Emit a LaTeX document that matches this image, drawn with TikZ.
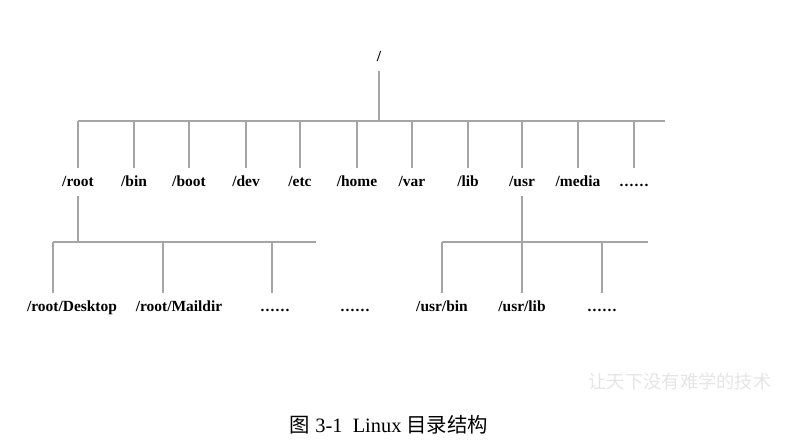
\documentclass[tikz,border=0pt]{standalone}
\usepackage{fontspec}
\setmainfont{Liberation Serif}
\newfontfamily\cjk{Noto Sans CJK SC}
\definecolor{linegray}{RGB}{165,165,165}
\newcommand\dirdots{.\kern.8pt.\kern.8pt.\kern.8pt.\kern.8pt.\kern.8pt.}
\begin{document}
\begin{tikzpicture}[
x=0.025cm, y=-0.025cm,
dir/.style={
        font=\fontsize{11}{13}\selectfont\bfseries,
        text height=9.5pt,
        text depth=2.5pt,
        inner xsep=1pt,
        inner ysep=3.8pt,
    },
tree/.style={
        draw=linegray,
        line width=0.8pt,
    },
]
\useasboundingbox (0,0) rectangle (804,443);

% top level
\node [dir] (root) at (379,57) {/};
\coordinate (bus1l) at (78,121);
\coordinate (bus1r) at (665,121);
\node [dir] (rootdir) at (78,182) {/root};
\node [dir] (bin) at (134,182) {/bin};
\node [dir] (boot) at (189,182) {/boot};
\node [dir] (dev) at (246,182) {/dev};
\node [dir] (etc) at (300,182) {/etc};
\node [dir] (home) at (357,182) {/home};
\node [dir] (var) at (412,182) {/var};
\node [dir] (lib) at (468,182) {/lib};
\node [dir] (usr) at (522,182) {/usr};
\node [dir] (media) at (578,182) {/media};
\node [dir] (more) at (634,182) {\dirdots};

\draw[tree] (root) -- (root |- bus1l);
\draw[tree] (bus1l) -- (bus1r);
\foreach \d in {rootdir,bin,boot,dev,etc,home,var,lib,usr,media,more}
    \draw[tree] (\d.north) -- (\d.north |- bus1l);

% under /root
\coordinate (bus2l) at (53,242);
\coordinate (bus2r) at (316,242);
\coordinate (drop2b) at (163,242);
\coordinate (drop2c) at (272,242);
\node [dir] (desktop) at (72,307) {/root/Desktop};
\node [dir] (maildir) at (179,307) {/root/Maildir};
\node [dir] (rootmore) at (275,307) {\dirdots};
\node [dir] (rootmoreb) at (355,307) {\dirdots};
\draw[tree] (rootdir.south) -- (rootdir.south |- bus2l);
\draw[tree] (bus2l) -- (bus2r);
\draw[tree] (bus2l) -- (bus2l |- desktop.north);
\draw[tree] (drop2b) -- (drop2b |- maildir.north);
\draw[tree] (drop2c) -- (drop2c |- rootmore.north);

% under /usr
\coordinate (bus3l) at (442,242);
\coordinate (bus3r) at (648,242);
\node [dir] (usrbin) at (442,307) {/usr/bin};
\node [dir] (usrlib) at (522,307) {/usr/lib};
\node [dir] (usrmore) at (602,307) {\dirdots};
\draw[tree] (usr.south) -- (usr.south |- bus3l);
\draw[tree] (bus3l) -- (bus3r);
\foreach \d in {usrbin,usrlib,usrmore}
    \draw[tree] (\d.north) -- (\d.north |- bus3l);

% watermark and caption
\node[text=gray!20, font=\cjk\fontsize{13}{15}\selectfont] (mark) at (680,381) {让天下没有难学的技术};
\node[font=\fontsize{14.5}{16}\selectfont] (caption) at (389,425) {{\cjk 图} 3-1\ \ Linux {\cjk 目录结构}};
\end{tikzpicture}
\end{document}
